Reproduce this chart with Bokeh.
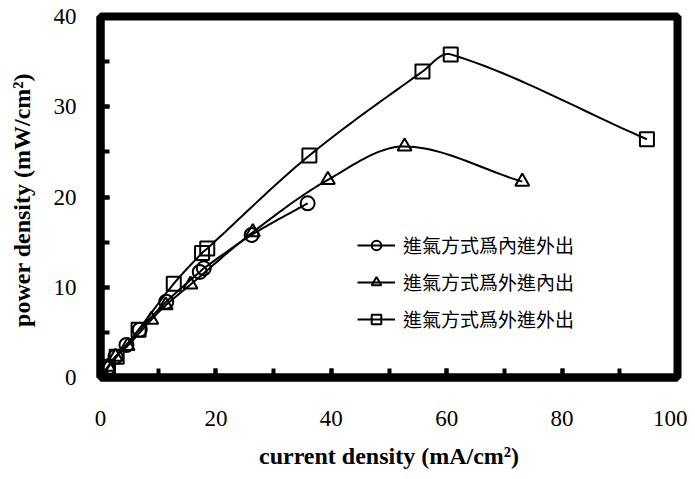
import numpy as np
from bokeh.plotting import figure
from bokeh.models import Range1d, Legend, LegendItem, SingleIntervalTicker
from bokeh.embed import file_html
from bokeh.resources import INLINE

# ---- data ----
circle_x = [0, 1.2, 2.6, 4.5, 6.8, 11.4, 17.2, 17.9, 26.2, 35.9]
circle_y = [0, 1.0, 2.3, 3.6, 5.3, 8.4, 11.7, 12.1, 15.8, 19.3]

tri_x = [0, 1.3, 2.6, 4.7, 8.8, 11.3, 15.6, 26.4, 39.4, 52.7, 73.1]
tri_y = [0, 1.2, 2.3, 3.5, 6.4, 8.0, 10.3, 16.1, 21.9, 25.6, 21.7]

sq_x = [0, 1.3, 2.8, 6.6, 12.7, 17.6, 18.5, 36.2, 55.8, 60.7, 94.7]
sq_y = [0, 1.2, 2.3, 5.3, 10.4, 13.8, 14.3, 24.6, 33.9, 35.8, 26.4]

labels = ["進氣方式爲內進外出", "進氣方式爲外進內出", "進氣方式爲外進外出"]
x_title = "current density (mA/cm²)"
y_title = "power density  (mW/cm²)"


def smooth(xs, ys, sx=5.77, sy=9.2, n=24):
    """Chord-length Catmull-Rom curve through the points (for the drawn line only)."""
    P = np.column_stack([np.asarray(xs, float) * sx, np.asarray(ys, float) * sy])
    d = np.linalg.norm(np.diff(P, axis=0), axis=1)
    d[d == 0] = 1e-9
    k = len(P)
    M = np.zeros_like(P)
    for i in range(k):
        if i == 0:
            M[i] = (P[1] - P[0]) / d[0]
        elif i == k - 1:
            M[i] = (P[-1] - P[-2]) / d[-1]
        else:
            M[i] = (P[i + 1] - P[i - 1]) / (d[i - 1] + d[i])
    out = []
    t = np.linspace(0, 1, n)[:, None]
    for i in range(k - 1):
        p1, p2 = P[i], P[i + 1]
        c1 = p1 + M[i] * d[i] / 3
        c2 = p2 - M[i + 1] * d[i] / 3
        seg = (1 - t) ** 3 * p1 + 3 * (1 - t) ** 2 * t * c1 + 3 * (1 - t) * t ** 2 * c2 + t ** 3 * p2
        out.append(seg if i == 0 else seg[1:])
    Q = np.vstack(out)
    return Q[:, 0] / sx, Q[:, 1] / sy


p = figure(width=687, height=471, output_backend="svg", toolbar_location=None,
           x_range=Range1d(0, 100), y_range=Range1d(0, 40),
           min_border_left=100, min_border_right=10, min_border_top=16, min_border_bottom=87)
p.grid.visible = False
p.outline_line_color = "#000000"
p.outline_line_width = 8
p.outline_line_alpha = 1.0

for ax in (p.xaxis[0], p.yaxis[0]):
    ax.axis_line_width = 8
    ax.axis_line_color = "#000000"
    ax.major_tick_in = 9
    ax.major_tick_out = 0
    ax.minor_tick_in = 9
    ax.minor_tick_out = 0
    ax.major_tick_line_width = 4
    ax.major_tick_line_color = "#000000"
    ax.minor_tick_line_width = 4
    ax.minor_tick_line_color = "#000000"
    ax.major_label_text_font = "Liberation Serif"
    ax.major_label_text_font_size = "23px"
    ax.major_label_text_color = "black"
    ax.axis_label_text_font = "Liberation Serif"
    ax.axis_label_text_font_style = "bold"
    ax.axis_label_text_font_size = "24px"
    ax.axis_label_text_color = "black"

p.xaxis.ticker = SingleIntervalTicker(interval=20, num_minor_ticks=2)
p.yaxis.ticker = SingleIntervalTicker(interval=10, num_minor_ticks=2)
p.xaxis.major_label_standoff = 33
p.yaxis.major_label_standoff = 24
p.xaxis.axis_label = x_title
p.yaxis.axis_label = y_title
p.xaxis.axis_label_standoff = 14
p.yaxis.axis_label_standoff = 16

items = []
for xs, ys, marker, lab in [(circle_x, circle_y, "circle", labels[0]),
                            (tri_x, tri_y, "triangle", labels[1]),
                            (sq_x, sq_y, "square", labels[2])]:
    lx, ly = smooth(xs, ys)
    lr = p.line(lx, ly, line_color="black", line_width=2)
    sr = p.scatter(xs, ys, marker=marker, size=14, line_color="black", line_width=2,
                   fill_alpha=0)
    items.append(LegendItem(label=lab, renderers=[lr, sr]))

legend = Legend(items=items, location=(257, 45), border_line_color=None,
                background_fill_alpha=0, padding=0, margin=0, spacing=10,
                label_height=24, glyph_height=24, glyph_width=38, label_standoff=8,
                label_text_font="Noto Sans CJK TC", label_text_font_size="19px",
                label_text_color="black")
p.add_layout(legend)

open("out.html", "w").write(file_html(p, INLINE))
